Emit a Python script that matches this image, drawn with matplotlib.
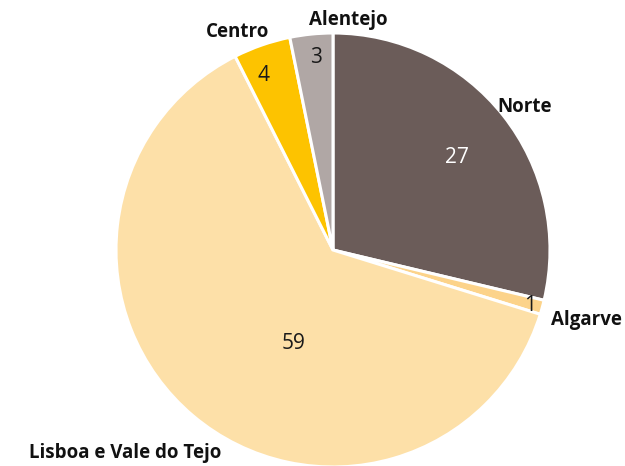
import matplotlib
matplotlib.use("Agg")
import matplotlib.pyplot as plt

regions = ["Norte", "Algarve", "Lisboa e Vale do Tejo", "Centro", "Alentejo"]
values = [27, 1, 59, 4, 3]
colors = ["#6b5c59", "#fcd38a", "#fde0a8", "#fdc300", "#b0a7a5"]
value_colors = ["white", "#1a1a1a", "#1a1a1a", "#1a1a1a", "#1a1a1a"]

# label positions (radius units, relative to pie centre)
name_pos = [(0.885, 0.659), (1.166, -0.323), (-0.959, -0.935), (-0.438, 1.005), (0.069, 1.060)]
val_pos = [(0.571, 0.424), (0.908, -0.258), (-0.180, -0.429), (-0.318, 0.806), (-0.078, 0.885)]

fig = plt.figure(figsize=(6.25, 4.66), dpi=100)
ax = fig.add_axes([0, 0, 1, 1])

wedges, _ = ax.pie(values, colors=colors, startangle=90, counterclock=False,
                   radius=1, center=(0, 0),
                   wedgeprops=dict(edgecolor="white", linewidth=2.2))
for w in wedges:
    w.set_clip_on(False)

ax.set_xlim(-333 / 217, (625 - 333) / 217)
ax.set_ylim(-216 / 217, 250 / 217)
ax.set_aspect("equal", adjustable="datalim")
ax.axis("off")

for name, (x, y) in zip(regions, name_pos):
    ax.text(x, y, name, ha="center", va="center", fontsize=13.5,
            fontweight="bold", family="Open Sans", color="#111111")
for v, c, (x, y) in zip(values, value_colors, val_pos):
    ax.text(x, y, str(v), ha="center", va="center", fontsize=15,
            family="Open Sans", color=c)

fig.savefig("out.png", dpi=100)
